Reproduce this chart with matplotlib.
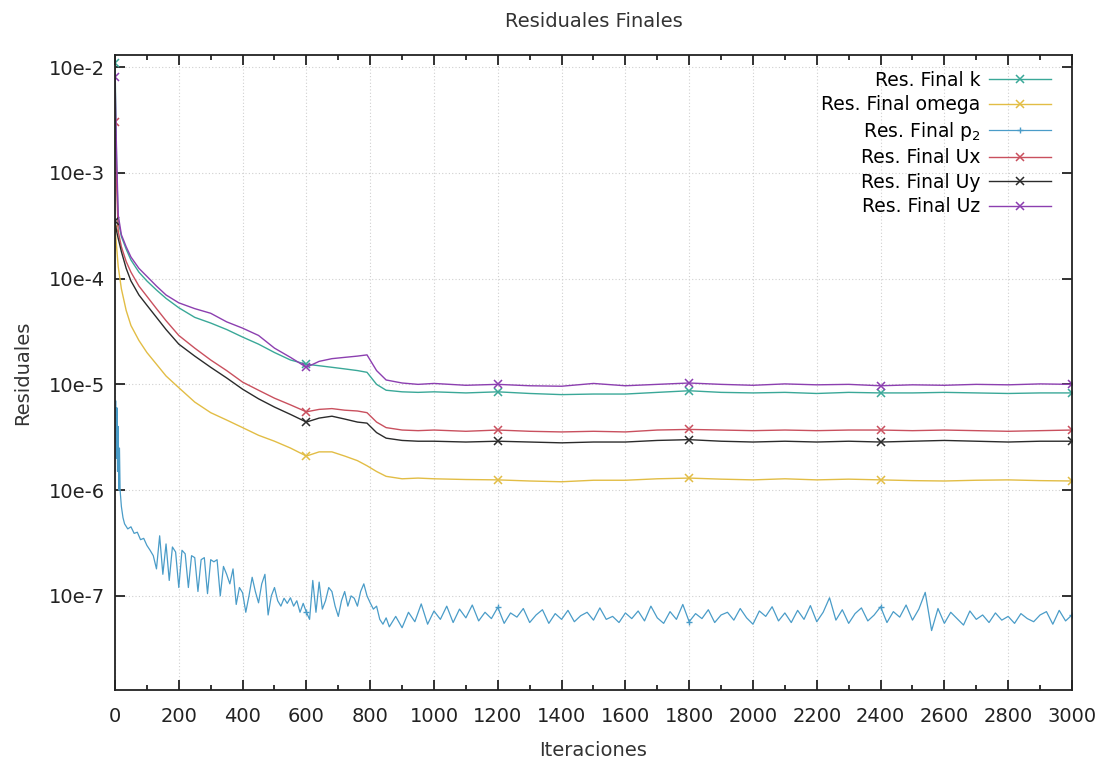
import matplotlib
matplotlib.use("Agg")
import matplotlib.pyplot as plt
from matplotlib.ticker import FixedLocator, MultipleLocator, NullLocator
import numpy as np

# iterations shared by the smooth residual curves
iters = [0, 5, 10, 20, 35, 50, 75, 100, 130, 160, 200, 250, 300, 350, 400, 450,
         500, 550, 600, 640, 680, 720, 760, 790, 820, 850, 900, 950, 1000, 1100,
         1200, 1300, 1400, 1500, 1600, 1700, 1800, 1900, 2000, 2100, 2200, 2300,
         2400, 2500, 2600, 2700, 2800, 2900, 3000]

res_k = [1.1e-2, 1.2e-3, 3.5e-4, 2.5e-4, 1.9e-4, 1.5e-4, 1.15e-4, 9.5e-5, 7.8e-5,
         6.5e-5, 5.3e-5, 4.3e-5, 3.8e-5, 3.3e-5, 2.8e-5, 2.4e-5, 2.0e-5, 1.7e-5,
         1.55e-5, 1.5e-5, 1.45e-5, 1.4e-5, 1.35e-5, 1.3e-5, 1.0e-5, 8.8e-6, 8.5e-6,
         8.4e-6, 8.5e-6, 8.3e-6, 8.5e-6, 8.2e-6, 8.0e-6, 8.1e-6, 8.1e-6, 8.4e-6,
         8.7e-6, 8.4e-6, 8.3e-6, 8.4e-6, 8.2e-6, 8.4e-6, 8.3e-6, 8.3e-6, 8.4e-6,
         8.3e-6, 8.2e-6, 8.3e-6, 8.3e-6]

res_omega = [3.0e-4, 2.0e-4, 1.3e-4, 8.0e-5, 5.0e-5, 3.6e-5, 2.6e-5, 2.0e-5, 1.55e-5,
             1.2e-5, 9.3e-6, 6.8e-6, 5.4e-6, 4.6e-6, 3.9e-6, 3.3e-6, 2.9e-6, 2.5e-6,
             2.1e-6, 2.3e-6, 2.3e-6, 2.1e-6, 1.9e-6, 1.7e-6, 1.5e-6, 1.35e-6, 1.28e-6,
             1.3e-6, 1.28e-6, 1.26e-6, 1.25e-6, 1.22e-6, 1.2e-6, 1.24e-6, 1.24e-6,
             1.28e-6, 1.3e-6, 1.27e-6, 1.25e-6, 1.28e-6, 1.25e-6, 1.27e-6, 1.25e-6,
             1.23e-6, 1.22e-6, 1.24e-6, 1.25e-6, 1.23e-6, 1.22e-6]

res_ux = [3.0e-3, 8.0e-4, 2.8e-4, 2.0e-4, 1.45e-4, 1.15e-4, 8.5e-5, 6.8e-5, 5.2e-5,
          4.0e-5, 2.9e-5, 2.2e-5, 1.7e-5, 1.35e-5, 1.05e-5, 8.8e-6, 7.4e-6, 6.4e-6,
          5.5e-6, 5.8e-6, 5.9e-6, 5.7e-6, 5.6e-6, 5.4e-6, 4.4e-6, 3.9e-6, 3.7e-6,
          3.65e-6, 3.7e-6, 3.6e-6, 3.7e-6, 3.6e-6, 3.55e-6, 3.6e-6, 3.55e-6, 3.7e-6,
          3.75e-6, 3.7e-6, 3.65e-6, 3.7e-6, 3.65e-6, 3.7e-6, 3.7e-6, 3.65e-6, 3.7e-6,
          3.65e-6, 3.6e-6, 3.65e-6, 3.7e-6]

res_uy = [3.5e-4, 2.8e-4, 2.4e-4, 1.8e-4, 1.25e-4, 9.5e-5, 7.0e-5, 5.6e-5, 4.3e-5,
          3.3e-5, 2.4e-5, 1.85e-5, 1.45e-5, 1.15e-5, 9.0e-6, 7.3e-6, 6.1e-6, 5.2e-6,
          4.4e-6, 4.8e-6, 5.0e-6, 4.7e-6, 4.4e-6, 4.3e-6, 3.5e-6, 3.1e-6, 2.95e-6,
          2.9e-6, 2.9e-6, 2.85e-6, 2.9e-6, 2.85e-6, 2.8e-6, 2.85e-6, 2.85e-6, 2.95e-6,
          3.0e-6, 2.9e-6, 2.85e-6, 2.9e-6, 2.85e-6, 2.9e-6, 2.85e-6, 2.9e-6, 2.95e-6,
          2.9e-6, 2.85e-6, 2.9e-6, 2.9e-6]

res_uz = [8.0e-3, 1.5e-3, 4.0e-4, 2.6e-4, 2.0e-4, 1.6e-4, 1.25e-4, 1.05e-4, 8.5e-5,
          7.0e-5, 5.9e-5, 5.2e-5, 4.7e-5, 3.9e-5, 3.4e-5, 2.9e-5, 2.2e-5, 1.8e-5,
          1.45e-5, 1.65e-5, 1.75e-5, 1.8e-5, 1.85e-5, 1.9e-5, 1.35e-5, 1.1e-5, 1.03e-5,
          1.0e-5, 1.02e-5, 0.98e-5, 1.0e-5, 0.97e-5, 0.96e-5, 1.02e-5, 0.97e-5, 1.0e-5,
          1.03e-5, 1.0e-5, 0.98e-5, 1.01e-5, 0.99e-5, 1.0e-5, 0.97e-5, 0.99e-5, 0.98e-5,
          1.0e-5, 0.99e-5, 1.01e-5, 1.0e-5]

# p2 residual: noisy, read in three pieces
p2_start_it = [0, 2, 4, 6, 8, 10, 12, 14, 16, 20, 25]
p2_start = [3.0e-6, 7.0e-6, 2.0e-6, 6.0e-6, 1.5e-6, 4.0e-6, 1.0e-6, 2.5e-6, 1.0e-6,
            7.0e-7, 5.5e-7]

# iterations 30..850 every 10, units of 1e-7
p2_mid = [4.8, 4.3, 4.5, 3.9, 4.0, 3.4, 3.5, 3.0, 2.7, 2.4, 1.8, 3.7, 1.6, 3.1, 1.4,
          2.9, 2.6, 1.2, 2.7, 2.5, 1.2, 2.4, 2.3, 1.1, 2.2, 2.3, 1.05, 2.2, 2.1, 2.2,
          1.0, 1.9, 1.6, 1.3, 1.8, 0.83, 1.2, 1.07, 0.7, 1.0, 1.5, 1.1, 0.86, 1.3, 1.6,
          0.66, 1.0, 1.2, 0.9, 0.8, 0.95, 0.85, 0.96, 0.8, 0.9, 0.7, 0.85, 0.7, 0.6,
          1.4, 0.7, 1.35, 0.75, 0.9, 1.2, 1.1, 0.8, 0.64, 0.9, 1.1, 0.8, 1.0, 0.95,
          0.8, 1.1, 1.3, 1.0, 0.86, 0.75, 0.8, 0.6, 0.54, 0.62]

# iterations 860..3000 every 20, units of 1e-8
p2_late = [5.1, 6.4, 5.0, 7.0, 5.7, 8.4, 5.4, 7.2, 6.0, 8.0, 5.6, 7.5, 6.2, 8.2, 5.8,
           7.0, 6.1, 7.8, 5.5, 6.9, 6.3, 7.6, 5.6, 6.6, 7.4, 5.5, 6.8, 6.0, 7.3, 5.7,
           6.5, 7.0, 5.9, 7.7, 6.0, 6.4, 5.6, 6.9, 6.1, 7.2, 5.8, 8.0, 6.2, 5.5, 7.1,
           6.0, 8.3, 5.7, 6.8, 6.1, 7.4, 5.6, 6.6, 7.0, 5.9, 7.6, 6.2, 5.4, 7.2, 6.4,
           7.9, 5.8, 6.9, 5.6, 7.3, 6.0, 8.1, 5.7, 7.0, 9.6, 5.9, 7.4, 5.5, 6.8, 7.7,
           5.8, 6.6, 7.9, 5.6, 7.1, 6.3, 8.2, 5.9, 7.5, 10.8, 4.7, 7.6, 5.5, 7.0, 6.1,
           5.3, 7.2, 6.0, 6.6, 5.6, 6.9, 5.9, 6.4, 5.5, 6.8, 6.1, 5.7, 6.6, 7.1, 5.4,
           7.3, 5.8, 6.6]

marker_its = [0, 600, 1200, 1800, 2400, 3000]

ytick_vals = [1e-2, 1e-3, 1e-4, 1e-5, 1e-6, 1e-7]
ytick_labels = ["10e-2", "10e-3", "10e-4", "10e-5", "10e-6", "10e-7"]

# build p2 arrays
p2_it = np.concatenate([p2_start_it,
                        30 + 10 * np.arange(len(p2_mid)),
                        860 + 20 * np.arange(len(p2_late))])
p2_val = np.concatenate([p2_start, np.array(p2_mid) * 1e-7, np.array(p2_late) * 1e-8])

fig = plt.figure(figsize=(11.09, 7.64), dpi=100)
ax = fig.add_axes([0.1037, 0.0969, 0.8629, 0.8311])

it = np.array(iters)
mk = [i for i, v in enumerate(iters) if v in marker_its]
mk_p2 = [i for i, v in enumerate(p2_it) if v in marker_its]

series = [
    ("Res. Final k", res_k, "#3aa898", "x"),
    ("Res. Final omega", res_omega, "#e2bd45", "x"),
    ("Res. Final p$_2$", None, "#4a9cc8", "+"),
    ("Res. Final Ux", res_ux, "#c9505e", "x"),
    ("Res. Final Uy", res_uy, "#2b2b2b", "x"),
    ("Res. Final Uz", res_uz, "#8c3fb0", "x"),
]

for label, vals, color, m in series:
    if vals is None:
        ax.plot(p2_it, p2_val, color=color, lw=0.9, marker=m, markevery=mk_p2,
                ms=4, mew=1.0, label=label)
    else:
        ax.plot(it, vals, color=color, lw=1.0, marker=m, markevery=mk,
                ms=6, mew=1.1, label=label)

ax.set_yscale("log")
ax.set_xlim(0, 3000)
ax.set_ylim(1.29e-8, 1.30e-2)

ax.yaxis.set_major_locator(FixedLocator(ytick_vals))
ax.yaxis.set_minor_locator(NullLocator())
ax.set_yticklabels(ytick_labels)
ax.xaxis.set_major_locator(MultipleLocator(200))
ax.xaxis.set_minor_locator(MultipleLocator(100))

ax.tick_params(which="both", direction="in", top=True, right=True, width=1.3,
               colors="#222222", labelsize=14)
ax.tick_params(which="major", length=7)
ax.tick_params(which="minor", length=3.5)
ax.tick_params(axis="x", pad=12)
ax.tick_params(axis="y", pad=7)

ax.grid(True, which="major", color="#d0d0d0", lw=0.8, ls=(0, (1, 2)))
for sp in ax.spines.values():
    sp.set_linewidth(1.3)
    sp.set_color("#222222")

ax.set_xlabel("Iteraciones", fontsize=14, labelpad=11, color="#333333")
ax.set_ylabel("Residuales", fontsize=14, labelpad=12, color="#333333")
ax.set_title("Residuales Finales", fontsize=14, pad=20, color="#333333")

ax.legend(loc="upper right", bbox_to_anchor=(0.978, 0.975), frameon=False,
          markerfirst=False, fontsize=13.5, handlelength=3.3, handletextpad=0.45,
          labelspacing=0.29, borderpad=0, borderaxespad=0)

fig.savefig("out.png", dpi=100)
